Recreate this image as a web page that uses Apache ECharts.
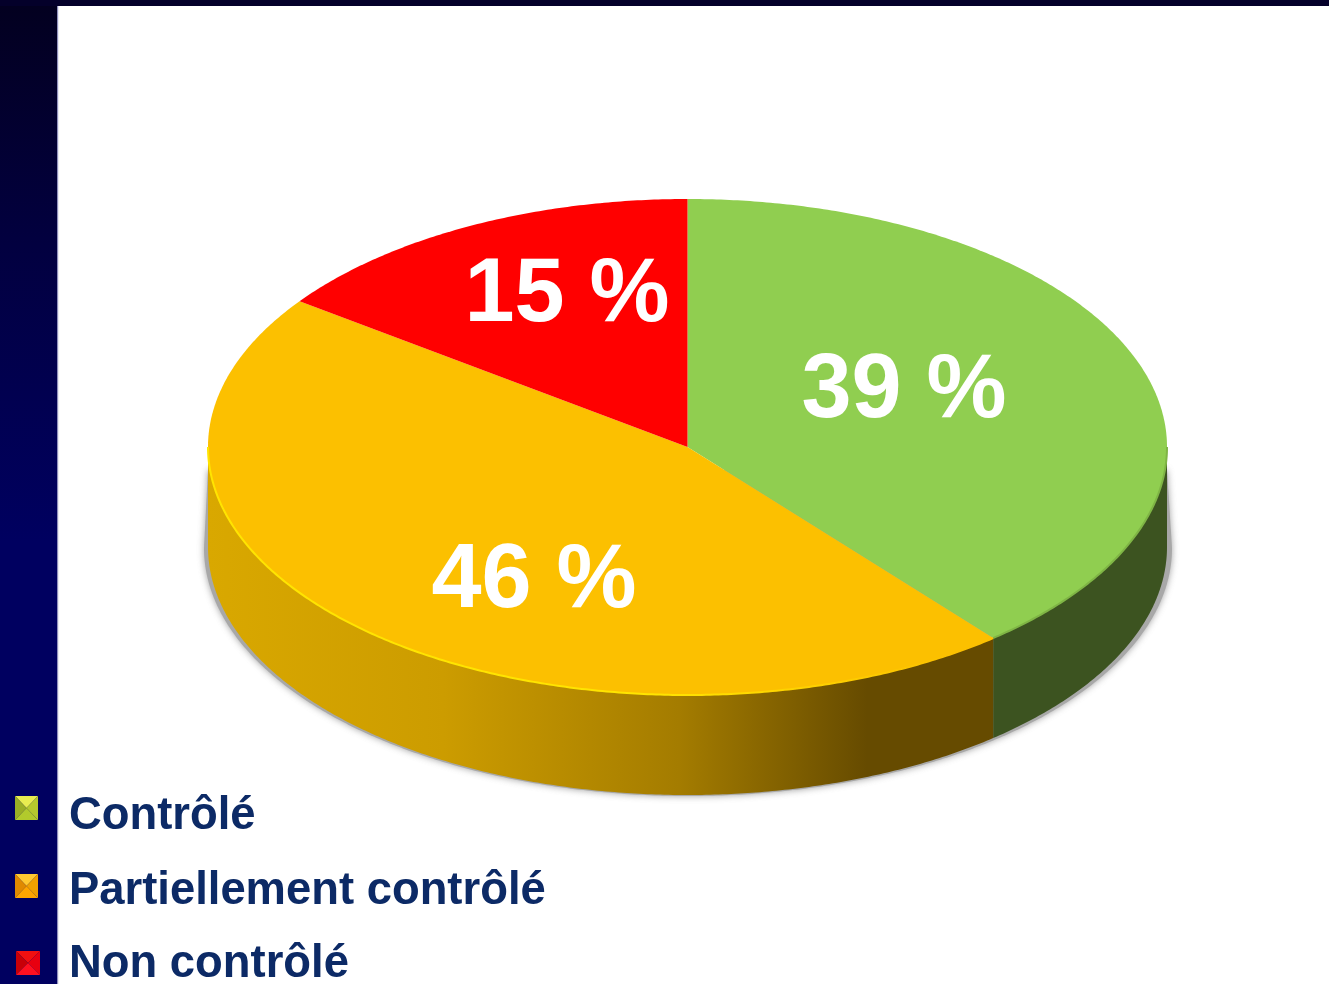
<!DOCTYPE html>
<html><head><meta charset="utf-8">
<style>html,body{margin:0;padding:0;background:#fff}#c{width:1329px;height:984px}</style>
<script src="https://cdn.jsdelivr.net/npm/echarts@6/dist/echarts.min.js"></script>
</head><body><div id="c"></div>
<script>
const categories = ['Contrôlé', 'Partiellement contrôlé', 'Non contrôlé'];
const values = [39, 46, 15];
const valueLabels = ['39 %', '46 %', '15 %'];

// Styling and geometry of the tilted disc
const CX = 687.5, CY = 447, RX = 479.5, RY = 248, DEPTH = 100;
const topColors = ['#90ce50', '#fcc000', '#ff0000'];
const rimColors = ['#7fb545',
  {type:'linear', x:208, y:0, x2:950, y2:0, global:true,
   colorStops:[{offset:0,color:'#ffe400'},{offset:0.6,color:'#ffe400'},{offset:1,color:'#fcc000'}]},
  null];
const sideFills = [
  '#3c5320',
  {type:'linear', x:208, y:0, x2:993, y2:0, global:true,
   colorStops:[{offset:0,color:'#d9a800'},{offset:0.3,color:'#cc9c00'},{offset:0.6,color:'#a47c00'},{offset:0.84,color:'#664b00'},{offset:1,color:'#664b00'}]},
  '#7f0000'
];
const labelAnchors = [[904, 392], [534, 582], [567, 296]];
const legendRows = [
  {y:816, ix:15, iy:796, w:23, h:24, cols:['#e8ec50','#9aae25','#b5c92e','#b2ca2c']},
  {y:891, ix:15, iy:874, w:23, h:24, cols:['#ffc830','#e08a00','#f0a000','#ffa500']},
  {y:964, ix:16, iy:951, w:24, h:24, cols:['#f01010','#c80008','#e80010','#ff1020']}
];

const total = values.reduce((a,b)=>a+b,0);
const starts = []; { let s=0; values.forEach(v=>{starts.push(s); s+=v;}); }
const ang = v => v/total*360;
const pt = (deg, dy=0, rx=RX, ry=RY, cx=CX, cy=CY) => {
  const t = deg*Math.PI/180;
  return [cx + rx*Math.sin(t), cy - ry*Math.cos(t) + dy];
};
const arc = (a0, a1, dy=0) => {
  const out=[]; const n=Math.max(2,Math.ceil(Math.abs(a1-a0)*2));
  for(let i=0;i<=n;i++) out.push(pt(a0+(a1-a0)*i/n,dy));
  return out;
};

function renderShadow(params){
  if(params.dataIndex!==0) return {type:'group',children:[]};
  const pts=[];
  for(let d=90;d<=270;d+=0.5) pts.push(pt(d,0,484,248,688,548));
  pts.push([208,470],[1167,470]);
  return {type:'polygon',shape:{points:pts},silent:true,
    style:{fill:'#a8a8a8',shadowBlur:7,shadowColor:'rgba(120,120,120,0.7)'}};
}
function renderSide(params,api){
  const i=params.dataIndex;
  const a0=Math.max(90,ang(starts[i])), a1=Math.min(270,ang(starts[i]+api.value(0)));
  if(a1<=a0) return {type:'group',children:[]};
  const pts=arc(a0,a1,0).concat(arc(a1,a0,DEPTH));
  return {type:'polygon',shape:{points:pts},silent:true,style:{fill:sideFills[i],stroke:null}};
}
function renderTop(params,api){
  const i=params.dataIndex;
  const a0=ang(starts[i]), a1=ang(starts[i]+api.value(0));
  const kids=[{type:'polygon',shape:{points:[[CX,CY]].concat(arc(a0,a1))},style:{fill:topColors[i]}}];
  const ra0=Math.max(90,a0), ra1=Math.min(270,a1);
  if(rimColors[i]&&ra1>ra0) kids.push({type:'polyline',shape:{points:arc(ra0,ra1)},style:{fill:null,stroke:rimColors[i],lineWidth:2}});
  kids.push({type:'text',x:labelAnchors[i][0],y:labelAnchors[i][1],
    style:{text:valueLabels[i],fill:'#fff',align:'center',verticalAlign:'middle',
      font:'bold 90px "Liberation Sans", Arial, sans-serif'}});
  const r=legendRows[i], m=[r.ix+r.w/2,r.iy+r.h/2], p=[[r.ix,r.iy],[r.ix+r.w,r.iy],[r.ix+r.w,r.iy+r.h],[r.ix,r.iy+r.h]];
  [[0,1,0],[3,0,1],[1,2,2],[2,3,3]].forEach(([a,b,c])=>kids.push({type:'polygon',shape:{points:[p[a],p[b],m]},style:{fill:r.cols[c]}}));
  kids.push({type:'text',x:69,y:r.y,style:{text:categories[i],fill:'#0c2a66',align:'left',verticalAlign:'middle',
    font:'bold 45.4px "Liberation Sans", Arial, sans-serif'}});
  return {type:'group',children:kids};
}

const chart = echarts.init(document.getElementById('c'),null,{renderer:'canvas'});
const data = values.map((v,i)=>({name:categories[i],value:[v]}));
chart.setOption({
  animation:false,
  backgroundColor:'#ffffff',
  graphic:[
    {type:'rect',z:0,shape:{x:0,y:0,width:57,height:984},style:{fill:new echarts.graphic.LinearGradient(0,0,0,1,[{offset:0,color:'#03001f'},{offset:0.25,color:'#020040'},{offset:0.55,color:'#000060'},{offset:1,color:'#000060'}])}},
    {type:'rect',z:0,shape:{x:0,y:0,width:1329,height:6},style:{fill:'#04002a'}},
    {type:'rect',z:0,shape:{x:57,y:6,width:1.2,height:978},style:{fill:'#8f8fbb'}}
  ],
  series:[
    {type:'custom',coordinateSystem:'none',renderItem:renderShadow,data,z:1,silent:true},
    {type:'custom',coordinateSystem:'none',renderItem:renderSide,data,z:2,silent:true},
    {type:'custom',coordinateSystem:'none',renderItem:renderTop,data,z:3,silent:true}
  ]
});
</script></body></html>
